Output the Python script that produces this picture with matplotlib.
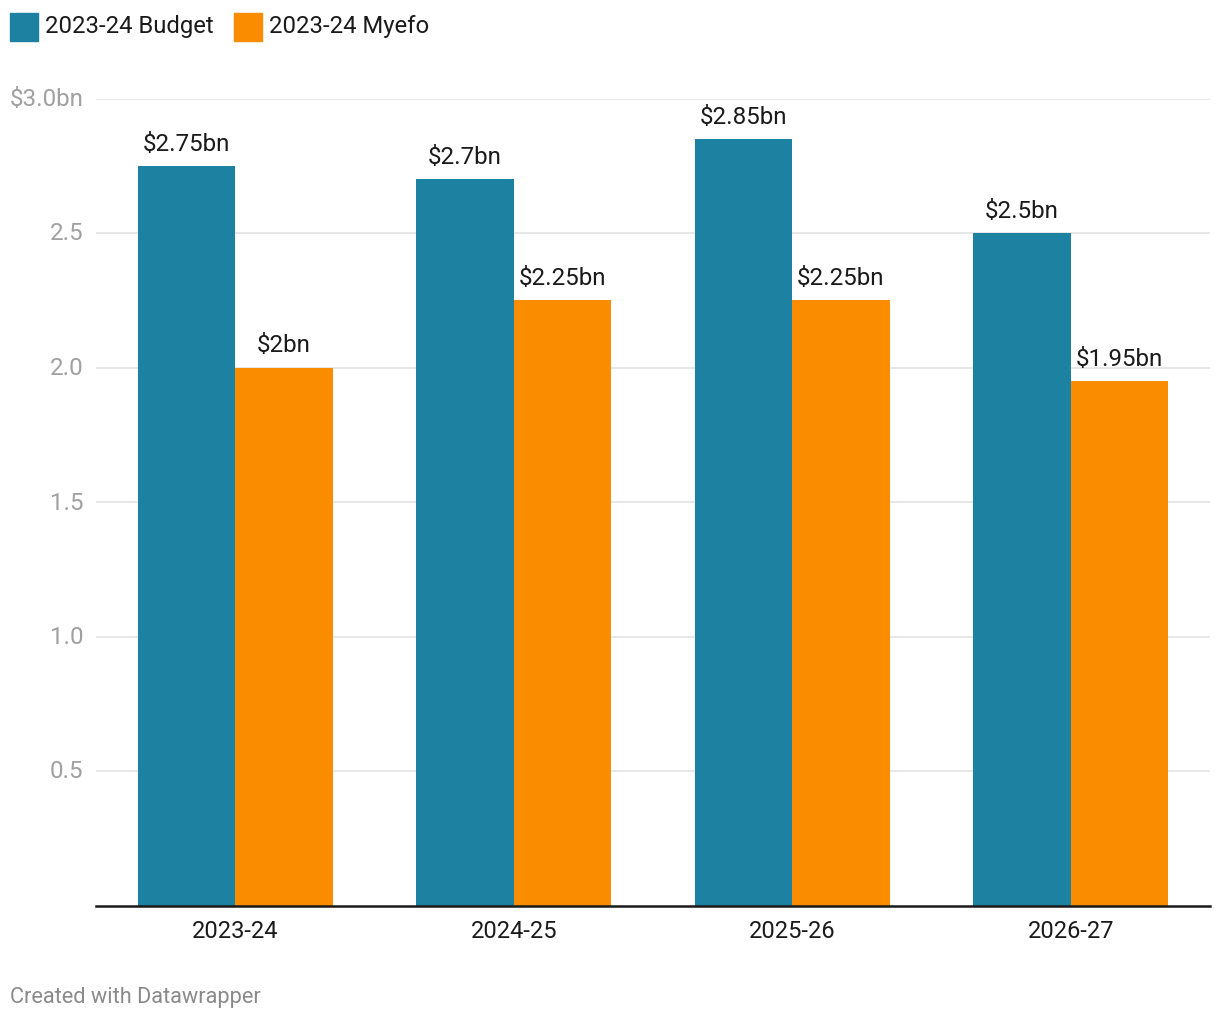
import matplotlib
matplotlib.use("Agg")
import matplotlib.pyplot as plt
from matplotlib.patches import Rectangle
import numpy as np

plt.rcParams['font.family'] = ['Roboto', 'DejaVu Sans']

categories = ["2023-24", "2024-25", "2025-26", "2026-27"]
budget = [2.75, 2.7, 2.85, 2.5]
myefo = [2.0, 2.25, 2.25, 1.95]
budget_labels = ["$2.75bn", "$2.7bn", "$2.85bn", "$2.5bn"]
myefo_labels = ["$2bn", "$2.25bn", "$2.25bn", "$1.95bn"]
series_names = ["2023-24 Budget", "2023-24 Myefo"]
yticks = [0.5, 1.0, 1.5, 2.0, 2.5, 3.0]
ytick_labels = ["0.5", "1.0", "1.5", "2.0", "2.5", "$3.0bn"]

BLUE = "#1d81a2"
ORANGE = "#fa8c00"

W, H = 1220, 1020
fig = plt.figure(figsize=(W / 100, H / 100), dpi=100)
ax = fig.add_axes([96 / W, 1 - 906.5 / H, (1210 - 96) / W, (906.5 - 99.5) / H])

x = np.arange(len(categories))
bw = 0.35
b1 = ax.bar(x - bw / 2, budget, bw, color=BLUE, zorder=3)
b2 = ax.bar(x + bw / 2, myefo, bw, color=ORANGE, zorder=3)

for rect, lab in zip(b1, budget_labels):
    ax.annotate(lab, (rect.get_x() + rect.get_width() / 2, rect.get_height()),
                xytext=(0, 8), textcoords="offset points", ha="center", va="bottom",
                fontsize=17.4, color="#1a1a1a")
for rect, lab in zip(b2, myefo_labels):
    ax.annotate(lab, (rect.get_x() + rect.get_width() / 2, rect.get_height()),
                xytext=(0, 8), textcoords="offset points", ha="center", va="bottom",
                fontsize=17.4, color="#1a1a1a")

ax.set_xlim(-0.5, len(categories) - 0.5)
ax.set_ylim(0, 3.0)
ax.set_yticks(yticks)
ax.set_yticklabels(ytick_labels)
for t in ax.get_yticklabels():
    t.set_verticalalignment("center")
ax.set_xticks(x)
ax.set_xticklabels(categories)
ax.tick_params(axis='y', length=0, pad=9, labelsize=17.4, labelcolor="#a0a0a0")
ax.tick_params(axis='x', length=0, pad=9.5, labelsize=17, labelcolor="#1a1a1a")
ax.grid(axis='y', color="#e3e3e3", linewidth=1.2, zorder=0)
for s in ["top", "right", "left"]:
    ax.spines[s].set_visible(False)
ax.spines["bottom"].set_color("#1a1a1a")
ax.spines["bottom"].set_linewidth(1.8)
ax.spines["bottom"].set_zorder(4)

# legend
colors = [BLUE, ORANGE]
xs = [10, 234]
for name, c, x0 in zip(series_names, colors, xs):
    fig.patches.append(Rectangle((x0 / W, 1 - 42 / H), 28 / W, 28 / H,
                                 transform=fig.transFigure, color=c))
    fig.text((x0 + 35) / W, 1 - 27 / H, name, fontsize=17.2, color="#1a1a1a",
             va="center", ha="left")

fig.text(10 / W, 1 - 998 / H, "Created with Datawrapper", fontsize=15.7,
         color="#8a8a8a", va="center", ha="left")

fig.savefig("out.png", dpi=100)
